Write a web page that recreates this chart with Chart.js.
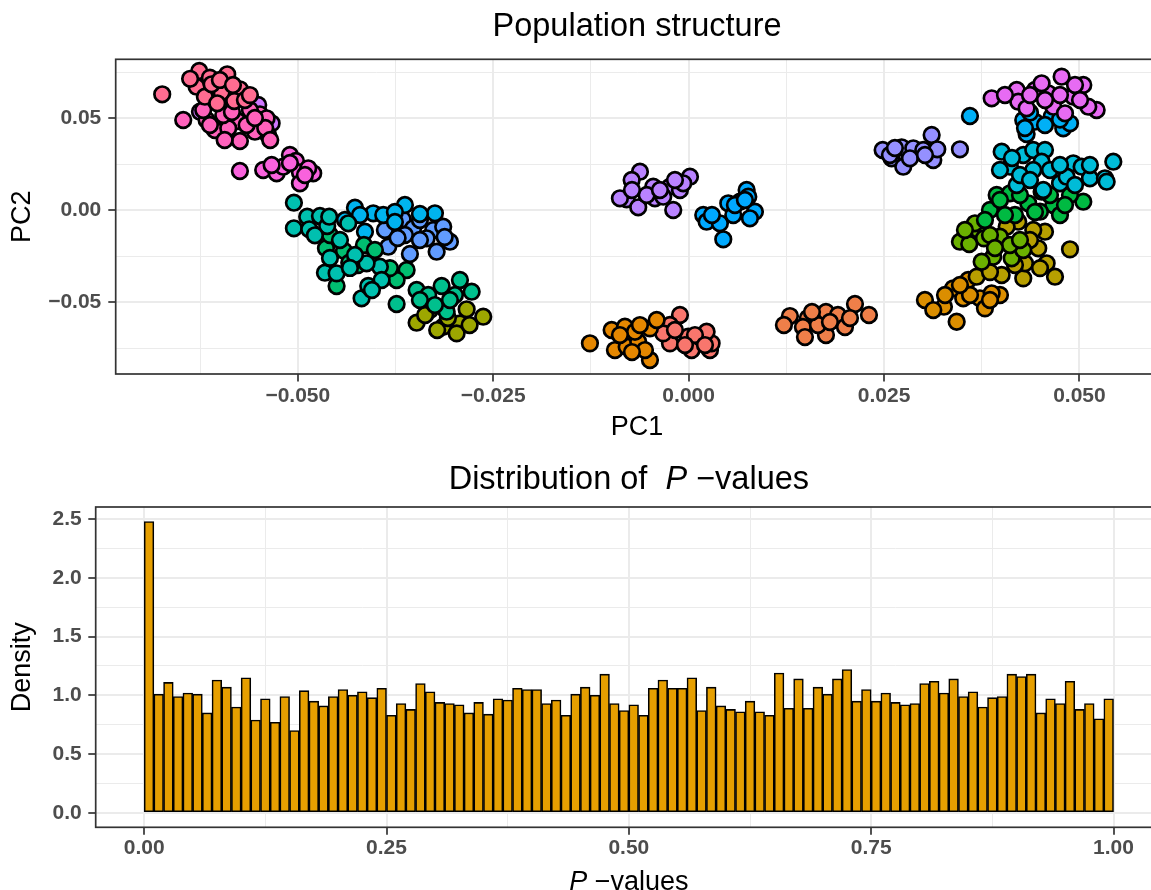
<!DOCTYPE html>
<html><head><meta charset="utf-8">
<script src="https://cdn.jsdelivr.net/npm/chart.js@4.4.1/dist/chart.umd.min.js"></script>
<style>
html,body{margin:0;padding:0;background:#fff;overflow:hidden;width:1151px;height:890px;}
#wrap1{position:absolute;left:0;top:0;width:1170px;height:445px;}
#wrap2{position:absolute;left:0;top:445px;width:1170px;height:445px;}
canvas{display:block;}
</style></head><body>
<div id="wrap1"><canvas id="pca" width="1170" height="445"></canvas></div>
<div id="wrap2"><canvas id="hist" width="1170" height="445"></canvas></div>
<script>
// ---------- PCA data (PC1, PC2) per population ----------
const popCoral = [[-0.06735,0.06308],[-0.06261,0.07575],[-0.06125,0.07211],[-0.05903,0.07395],[-0.06295,0.06721],[-0.05975,0.06417],[-0.05741,0.06580],[-0.05814,0.05944],[-0.06189,0.06177],[-0.06031,0.05818],[-0.06103,0.06852],[-0.05997,0.07086],[-0.05677,0.05998],[-0.06378,0.07150],[-0.05830,0.06814],[-0.05613,0.06265]];
const popPink = [[-0.06466,0.04910],[-0.06167,0.04910],[-0.05770,0.04856],[-0.05485,0.05220],[-0.06061,0.04367],[-0.05741,0.03768],[-0.05549,0.04274],[-0.05890,0.04459],[-0.05655,0.04638],[-0.05954,0.05182],[-0.05399,0.05003],[-0.06210,0.05454],[-0.05613,0.05454],[-0.05843,0.05345],[-0.05417,0.04475],[-0.05936,0.03823],[-0.05353,0.03823],[-0.06125,0.04638],[-0.05549,0.05019]];
const popMagentaL = [[-0.06252,0.05362],[-0.05335,0.04731],[-0.05379,0.04095],[-0.05507,0.05726]];
const popHotPink = [[-0.05741,0.02137],[-0.05443,0.02191],[-0.05271,0.02012],[-0.05101,0.03007],[-0.05024,0.02681],[-0.04973,0.02066],[-0.04973,0.01468],[-0.04803,0.02012],[-0.05187,0.02371],[-0.04867,0.02284],[-0.05335,0.02463],[-0.05101,0.02572],[-0.04909,0.01920]];
const popTealL = [[-0.05050,0.00413],[-0.04880,-0.00348],[-0.05050,-0.00979],[-0.04854,-0.01033],[-0.04717,-0.00310],[-0.04624,-0.00854],[-0.04598,-0.00348],[-0.04355,-0.00707],[-0.04653,-0.03393],[-0.04504,-0.03426],[-0.04184,-0.04785],[-0.04099,-0.04116],[-0.03950,-0.03067],[-0.03928,-0.03790],[-0.04120,-0.02882],[-0.04461,-0.01615],[-0.04269,-0.02431],[-0.04781,-0.01359],[-0.04589,-0.02589],[-0.04333,-0.03133],[-0.04052,-0.04334]];
const popGreenL = [[-0.04640,-0.02066],[-0.04410,-0.02197],[-0.04342,-0.02849],[-0.04504,-0.04116],[-0.04154,-0.01887],[-0.03608,-0.03246],[-0.03736,-0.03790],[-0.04589,-0.01343],[-0.04014,-0.02159],[-0.04231,-0.02980],[-0.03822,-0.03143]];
const popBlueL = [[-0.04269,0.00141],[-0.04141,-0.01164],[-0.04035,-0.00163],[-0.03630,0.00288],[-0.03246,-0.00163],[-0.03907,-0.00256],[-0.04397,-0.00527],[-0.03758,-0.00092],[-0.04205,-0.00256],[-0.03438,-0.00201],[-0.03758,-0.00636]];
const popPeriL = [[-0.03886,-0.01071],[-0.03843,-0.01979],[-0.03659,-0.00489],[-0.03524,-0.00979],[-0.03566,-0.02376],[-0.03268,-0.01071],[-0.03140,-0.00892],[-0.03054,-0.01707],[-0.03224,-0.02251],[-0.03352,-0.01523],[-0.03630,-0.01343],[-0.03438,-0.00527],[-0.03438,-0.01615],[-0.03121,-0.01452],[-0.03723,-0.01506]];
const popGreenTealL = [[-0.03736,-0.05095],[-0.03480,-0.04334],[-0.03332,-0.04606],[-0.03160,-0.04116],[-0.02926,-0.03790],[-0.02776,-0.04426],[-0.03096,-0.05514],[-0.03246,-0.05150],[-0.02990,-0.04606],[-0.03438,-0.04878],[-0.03054,-0.04878]];
const popOliveL = [[-0.03480,-0.06112],[-0.03140,-0.06330],[-0.02926,-0.06145],[-0.02840,-0.05383],[-0.02628,-0.05786],[-0.02968,-0.06689],[-0.03310,-0.05422],[-0.03080,-0.05857],[-0.03217,-0.06510],[-0.02802,-0.06238],[-0.03371,-0.05693]];
const popPurpleM = [[-0.00623,0.02099],[-0.00729,0.01648],[-0.00793,0.00598],[-0.00879,0.00653],[-0.00645,0.00163],[-0.00453,0.01283],[-0.00431,0.00653],[-0.00239,0.01283],[-0.00111,0.01104],[0.00017,0.01827],[-0.00197,0.00016],[-0.00537,0.00832],[-0.00325,0.00740],[-0.00069,0.01468],[-0.00725,0.01104],[-0.00367,0.01104],[-0.00175,0.01648]];
const popBlueM = [[0.00187,-0.00256],[0.00230,-0.00620],[0.00400,-0.00707],[0.00443,-0.01577],[0.00507,0.00381],[0.00656,0.00468],[0.00742,0.01104],[0.00763,0.00740],[0.00848,-0.00076],[0.00784,-0.00435],[0.00571,-0.00256],[0.00592,0.00288],[0.00298,-0.00256],[0.00720,0.00560]];
const popOrangeM = [[-0.01263,-0.07232],[-0.00985,-0.06509],[-0.00815,-0.06330],[-0.00943,-0.07597],[-0.00793,-0.07417],[-0.00645,-0.07145],[-0.00495,-0.06417],[-0.00495,-0.08140],[-0.00559,-0.07597],[-0.00687,-0.06602],[-0.00409,-0.05965],[-0.00879,-0.06781],[-0.00725,-0.07706],[-0.00623,-0.06238]];
const popSalmonM = [[-0.00111,-0.05693],[-0.00239,-0.06237],[-0.00239,-0.07232],[-0.00005,-0.06873],[0.00038,-0.07597],[0.00145,-0.06873],[0.00273,-0.07597],[0.00294,-0.07232],[0.00230,-0.06602],[-0.00325,-0.06689],[0.00081,-0.06781],[-0.00047,-0.07325],[-0.00175,-0.06509],[0.00209,-0.07325]];
const popOrangeRedR = [[0.01296,-0.05748],[0.01526,-0.05857],[0.01462,-0.06346],[0.01757,-0.05530],[0.01910,-0.05693],[0.02128,-0.05095],[0.02000,-0.06346],[0.02307,-0.05693],[0.01757,-0.06781],[0.01488,-0.06890],[0.01219,-0.06237],[0.01654,-0.06237],[0.02064,-0.05857],[0.01808,-0.06074],[0.01578,-0.05530]];
const popVioletR = [[0.02482,0.03279],[0.02597,0.02828],[0.02725,0.03426],[0.02746,0.02371],[0.02874,0.03371],[0.03002,0.03279],[0.03109,0.04095],[0.03130,0.02735],[0.03181,0.03317],[0.03471,0.03317],[0.02831,0.02828],[0.02575,0.03007],[0.03024,0.03007],[0.02639,0.03388]];
const popMagentaR = [[0.03877,0.06090],[0.04197,0.06542],[0.04431,0.06542],[0.04601,0.06362],[0.04772,0.07265],[0.04921,0.06177],[0.05049,0.06814],[0.05220,0.05454],[0.05113,0.05634],[0.04665,0.05634],[0.04217,0.05905],[0.04815,0.05275],[0.04516,0.06906],[0.04324,0.05547],[0.04367,0.06270],[0.04751,0.06270],[0.04943,0.06814],[0.04047,0.06270],[0.04559,0.05998],[0.05007,0.05998]];
const popBlueR = [[0.03599,0.05128],[0.04281,0.04910],[0.04324,0.04149],[0.04431,0.04818],[0.04644,0.05090],[0.04793,0.04459],[0.04879,0.04731],[0.04559,0.04638],[0.04367,0.05319],[0.04751,0.04938],[0.04303,0.04475]];
const popCyanR = [[0.04005,0.03187],[0.04111,0.02371],[0.04281,0.03007],[0.04409,0.03279],[0.04559,0.03279],[0.04516,0.02643],[0.04197,0.01376],[0.04516,0.01011],[0.04751,0.01468],[0.04921,0.02556],[0.05028,0.02371],[0.05134,0.01740],[0.05326,0.01740],[0.05433,0.02643],[0.04409,0.02191],[0.04836,0.01827],[0.04537,0.01104],[0.05348,0.01555],[0.03983,0.02191],[0.04239,0.01920],[0.04623,0.02191],[0.05134,0.02464],[0.04751,0.02464],[0.04367,0.01648],[0.04943,0.01376],[0.04137,0.02844]];
const popGreenR = [[0.03855,0.00016],[0.03941,0.00832],[0.04345,0.00381],[0.04665,0.00288],[0.04751,-0.00256],[0.05049,0.00468],[0.04495,-0.00076],[0.04111,0.00924],[0.04175,-0.00256],[0.03983,0.00560],[0.04239,0.00832],[0.04623,0.00832],[0.04879,0.00832],[0.04431,-0.00092],[0.04047,-0.00256],[0.03791,-0.00527],[0.04815,0.00288]];
const popLimeR = [[0.03471,-0.01707],[0.03590,-0.01833],[0.03692,-0.01033],[0.03778,-0.01523],[0.03983,-0.01436],[0.03897,-0.02523],[0.03749,-0.02795],[0.04133,-0.02610],[0.04281,-0.02159],[0.03663,-0.00707],[0.03855,-0.01343],[0.04111,-0.01887],[0.03535,-0.01071],[0.03919,-0.02050],[0.04239,-0.01615]];
const popOliveR = [[0.04217,-0.00620],[0.04559,-0.01164],[0.04409,-0.01071],[0.04473,-0.02066],[0.04580,-0.02882],[0.04687,-0.03611],[0.04281,-0.03698],[0.04005,-0.03518],[0.04879,-0.02121],[0.03685,-0.03611],[0.04303,-0.02882],[0.04069,-0.00892],[0.04367,-0.01615],[0.04175,-0.02975],[0.04495,-0.03143],[0.03855,-0.03360]];
const popOrangeR = [[0.03023,-0.04878],[0.03266,-0.05242],[0.03385,-0.04242],[0.03513,-0.04785],[0.03429,-0.06058],[0.03727,-0.04785],[0.03791,-0.05329],[0.03983,-0.04606],[0.03577,-0.03790],[0.03130,-0.05422],[0.03877,-0.04513],[0.03600,-0.04606],[0.03280,-0.04606],[0.03855,-0.04878],[0.03471,-0.04062]];

const popGroups = [popCoral, popPink, popHotPink, popTealL, popGreenL, popBlueL, popPeriL, popGreenTealL, popOliveL,
  popPurpleM, popBlueM, popOrangeM, popSalmonM, popOrangeRedR, popVioletR, popMagentaR, popBlueR, popCyanR,
  popGreenR, popLimeR, popOliveR, popOrangeR, popMagentaL];
const popColors = ['#FF6C91','#FF62BC','#F962DD','#00C0AF','#00BE70','#00B4EF','#619CFF','#00C08D','#9DA700',
  '#B983FF','#00A9FF','#E58700','#F8766D','#EF7F49','#9590FF','#E76BF3','#00B0F6','#00BCD8',
  '#00BA42','#6BB100','#B79F00','#DB8E00','#CF78FF'];

// ---------- PCA axis ticks ----------
const pc1Major = [-0.05, -0.025, 0, 0.025, 0.05];
const pc1Minor = [-0.0625, -0.0375, -0.0125, 0.0125, 0.0375];
const pc2Major = [-0.05, 0, 0.05];
const pc2Minor = [-0.075, -0.025, 0.025, 0.075];

// ---------- Histogram of P-values (density per 0.01 bin) ----------
const pvalDensity = [2.48,1.01,1.11,0.99,1.02,1.01,0.85,1.13,1.07,0.90,
  1.15,0.79,0.97,0.77,0.99,0.70,1.04,0.95,0.91,0.99,
  1.05,1.00,1.03,0.98,1.06,0.83,0.93,0.88,1.10,1.03,
  0.94,0.93,0.92,0.85,0.94,0.84,0.97,0.96,1.06,1.05,
  1.05,0.93,0.96,0.83,1.01,1.07,1.00,1.18,0.93,0.87,
  0.92,0.83,1.06,1.13,1.06,1.06,1.15,0.87,1.07,0.91,
  0.88,0.86,0.95,0.86,0.83,1.19,0.89,1.14,0.89,1.07,
  1.01,1.14,1.22,0.95,1.05,0.95,1.02,0.94,0.92,0.93,
  1.10,1.12,1.02,1.14,0.99,1.03,0.90,0.98,0.99,1.18,
  1.16,1.18,0.85,0.97,0.93,1.12,0.88,0.93,0.80,0.97];
const binWidth = 0.01;
const binMids = pvalDensity.map((_, i) => (i + 0.5) * binWidth);
const pMajor = [0, 0.25, 0.5, 0.75, 1];
const pMinor = [0.125, 0.375, 0.625, 0.875];
const dMajor = [0, 0.5, 1, 1.5, 2, 2.5];
const dMinor = [0.25, 0.75, 1.25, 1.75, 2.25];

// ---------- helpers ----------
const FONT = "'Liberation Sans', Arial, Helvetica, sans-serif";
Chart.defaults.font.family = FONT;
const has = (arr, v) => arr.some(a => Math.abs(a - v) < 1e-9);
const fmt = (v, d) => (Math.abs(v) < 1e-12 ? 0 : v).toFixed(d).replace('-', '\u2212');
const setTicks = (major, minor) => s => { s.ticks = major.concat(minor).sort((a, b) => a - b).map(v => ({value: v})); };
const GRID = '#EBEBEB', AXIS = '#333333', TICKTXT = '#4D4D4D';
function gridOpts(major) {
  return {
    display: true, drawOnChartArea: true, drawTicks: true, tickLength: 7.4,
    color: GRID,
    lineWidth: c => has(major, c.tick.value) ? 2 : 1,
    tickColor: c => has(major, c.tick.value) ? AXIS : 'rgba(0,0,0,0)',
    tickWidth: 1.7
  };
}
const tickFont = {size: 21, weight: 'bold', family: FONT};

const panelBorder = {
  id: 'panelBorder',
  afterDatasetsDraw(chart) {
    const {ctx, chartArea: a} = chart;
    ctx.save();
    ctx.strokeStyle = AXIS; ctx.lineWidth = 1.7;
    ctx.strokeRect(a.left, a.top, a.right - a.left, a.bottom - a.top);
    ctx.restore();
  }
};
function richText(id, segments, size, baseline) {
  return {
    id,
    afterDraw(chart) {
      const {ctx, chartArea: a} = chart;
      ctx.save();
      ctx.fillStyle = '#000'; ctx.textBaseline = 'alphabetic'; ctx.textAlign = 'left';
      const f = s => (s.italic ? 'italic ' : '') + size + 'px ' + FONT;
      let total = 0;
      const widths = segments.map(s => { ctx.font = f(s); const w = ctx.measureText(s.text).width; total += w; return w; });
      let x = (a.left + a.right) / 2 - total / 2;
      segments.forEach((s, i) => { ctx.font = f(s); ctx.fillText(s.text, x, baseline); x += widths[i]; });
      ctx.restore();
    }
  };
}

// ---------- PCA scatter ----------
new Chart(document.getElementById('pca'), {
  type: 'scatter',
  data: {
    datasets: popGroups.map((g, i) => ({
      data: g.map(p => ({x: p[0], y: p[1]})),
      backgroundColor: popColors[i], borderColor: '#000',
      pointBackgroundColor: popColors[i], pointBorderColor: '#000',
      pointRadius: 7.8, pointBorderWidth: 2.7, pointHoverRadius: 7.8
    }))
  },
  options: {
    responsive: false, animation: false, events: [],
    layout: {padding: {left: 0, top: 59.3, right: 11.6, bottom: 0}},
    plugins: {legend: {display: false}, title: {display: false}, tooltip: {enabled: false}},
    scales: {
      x: {
        type: 'linear', min: -0.0733, max: 0.0601,
        afterBuildTicks: setTicks(pc1Major, pc1Minor),
        afterFit: s => { s.height = 71; },
        grid: gridOpts(pc1Major), border: {display: false},
        ticks: {autoSkip: false, maxRotation: 0, padding: 2.3, color: TICKTXT, font: tickFont,
          callback: v => has(pc1Major, v) ? fmt(v, 3) : ''},
        title: {display: true, text: 'PC1', color: '#000', font: {size: 27, family: FONT}, padding: {top: 0, bottom: 1.0}}
      },
      y: {
        type: 'linear', min: -0.089, max: 0.0821,
        afterBuildTicks: setTicks(pc2Major, pc2Minor),
        afterFit: s => { s.width = 115.7; },
        grid: gridOpts(pc2Major), border: {display: false},
        ticks: {autoSkip: false, padding: 7, color: TICKTXT, font: tickFont,
          callback: v => has(pc2Major, v) ? fmt(v, 2) : ''},
        title: {display: true, text: 'PC2', color: '#000', font: {size: 27, family: FONT}, padding: {top: 6.3, bottom: 0}}
      }
    }
  },
  plugins: [panelBorder, richText('pcaTitle', [{text: 'Population structure'}], 32.5, 36)]
});

// ---------- Histogram ----------
new Chart(document.getElementById('hist'), {
  type: 'bar',
  data: {
    datasets: [{
      data: pvalDensity.map((d, i) => ({x: binMids[i], y: d})),
      backgroundColor: '#E69F00', borderColor: '#000', borderWidth: 1.6, borderSkipped: false,
      barPercentage: 1, categoryPercentage: 1
    }]
  },
  options: {
    responsive: false, animation: false, events: [],
    layout: {padding: {left: 0, top: 62, right: 8, bottom: 0}},
    plugins: {legend: {display: false}, title: {display: false}, tooltip: {enabled: false}},
    scales: {
      x: {
        type: 'linear', min: -0.05, max: 1.05, offset: false,
        afterBuildTicks: setTicks(pMajor, pMinor),
        afterFit: s => { s.height = 62.7; },
        grid: Object.assign(gridOpts(pMajor), {offset: false}), border: {display: false},
        ticks: {autoSkip: false, maxRotation: 0, padding: 1.2, color: TICKTXT, font: tickFont,
          callback: v => has(pMajor, v) ? fmt(v, 2) : ''},
        title: {display: false}
      },
      y: {
        type: 'linear', min: -0.124, max: 2.604,
        afterBuildTicks: setTicks(dMajor, dMinor),
        afterFit: s => { s.width = 95.7; },
        grid: gridOpts(dMajor), border: {display: false},
        ticks: {autoSkip: false, padding: 6.6, color: TICKTXT, font: tickFont,
          callback: v => has(dMajor, v) ? fmt(v, 1) : ''},
        title: {display: true, text: 'Density', color: '#000', font: {size: 27, family: FONT}, padding: {top: 6.3, bottom: 0}}
      }
    }
  },
  plugins: [panelBorder,
    richText('histTitle', [{text: 'Distribution of  '}, {text: 'P', italic: true}, {text: ' \u2212values'}], 32.5, 44),
    richText('histXTitle', [{text: 'P', italic: true}, {text: ' \u2212values'}], 27, 444.5)]
});
</script>
</body></html>
